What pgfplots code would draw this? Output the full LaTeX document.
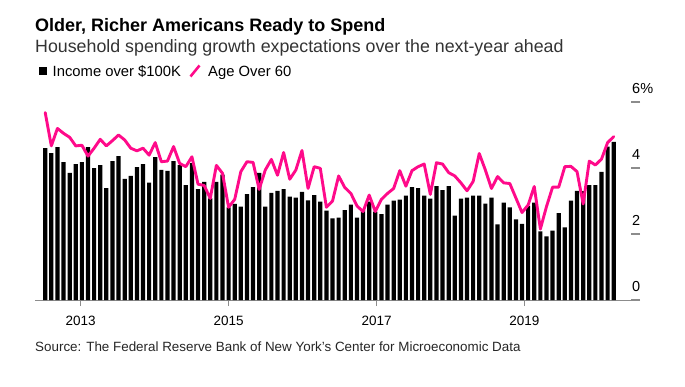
\documentclass[border=0pt]{standalone}
\usepackage{fontspec}
\setmainfont{Liberation Sans}
\usepackage{pgfplots}
\pgfplotsset{compat=1.18}
\definecolor{bpink}{HTML}{FF0A8A}
\definecolor{tickgray}{HTML}{8C8C8C}

\pgfplotstableread{
x y
0 4.60
1 4.45
2 4.63
3 4.18
4 3.85
5 4.12
6 4.18
7 4.63
8 4.00
9 4.09
10 3.39
11 4.21
12 4.36
13 3.67
14 3.76
15 4.03
16 4.12
17 3.56
18 4.33
19 3.94
20 3.91
21 4.21
22 4.09
23 3.48
24 4.15
25 3.36
26 3.58
27 3.08
28 3.58
29 3.80
30 2.81
31 2.91
32 2.83
33 3.21
34 3.42
35 3.85
36 2.83
37 3.25
38 3.31
39 3.36
40 3.13
41 3.10
42 3.28
43 3.02
44 3.18
45 2.98
46 2.71
47 2.47
48 2.50
49 2.72
50 2.89
51 2.50
52 2.73
53 2.98
54 2.68
55 2.60
56 2.89
57 3.01
58 3.04
59 3.16
60 3.42
61 3.39
62 3.16
63 3.07
64 3.45
65 3.33
66 3.45
67 2.56
68 3.07
69 3.10
70 3.16
71 3.16
72 2.92
73 3.10
74 2.29
75 2.95
76 2.81
77 2.44
78 2.31
79 2.85
80 2.95
81 2.08
82 1.93
83 2.10
84 2.63
85 2.20
86 3.01
87 3.31
88 3.30
89 3.48
90 3.48
91 3.88
92 4.65
93 4.79
}\incomedata

\pgfplotstableread{
x y
0 5.68
1 4.67
2 5.20
3 5.05
4 4.93
5 4.67
6 4.69
7 4.36
8 4.60
9 4.87
10 4.67
11 4.83
12 5.00
13 4.85
14 4.60
15 4.52
16 4.60
17 4.39
18 4.77
19 4.19
20 4.21
21 4.65
22 4.14
23 4.04
24 4.34
25 3.51
26 3.47
27 3.08
28 4.08
29 3.84
30 2.81
31 3.05
32 3.89
33 4.19
34 4.17
35 3.35
36 3.94
37 4.26
38 3.78
39 4.47
40 3.66
41 3.94
42 4.53
43 3.38
44 4.04
45 3.99
46 2.81
47 3.00
48 3.76
49 3.41
50 3.23
51 2.85
52 2.68
53 3.18
54 2.68
55 3.05
56 3.23
57 3.38
58 3.92
59 3.45
60 3.92
61 4.04
62 4.12
63 3.20
64 4.16
65 4.12
66 3.86
67 3.76
68 3.55
69 3.31
70 3.59
71 4.44
72 3.94
73 3.38
74 3.74
75 3.55
76 3.53
77 3.09
78 2.65
79 2.88
80 3.44
81 2.15
82 2.83
83 3.42
84 3.42
85 4.04
86 4.05
87 3.89
88 2.91
89 4.21
90 4.09
91 4.27
92 4.77
93 4.95
}\agedata

\begin{document}
\begin{tikzpicture}[x=1bp,y=1bp]
\useasboundingbox (0,0) rectangle (685,386);
\begin{axis}[
  at={(35bp,86bp)}, anchor=south west,
  scale only axis, width=605bp, height=198bp,
  xmin=-1.67, xmax=97.3, ymin=0, ymax=6,
  axis x line=bottom, axis y line=none,
  x axis line style={draw=tickgray, line width=1bp, -},
  xtick={5.8,30.0,54.2,78.4},
  xticklabels={2013,2015,2017,2019},
  tick align=outside, major tick length=6bp,
  xtick style={draw=tickgray, line width=1bp},
  xticklabel style={font=\fontsize{13.5bp}{15bp}\selectfont, anchor=base, inner sep=0pt, yshift=-19bp},
  /pgf/number format/assume math mode=true,
  clip=false,
]
\addplot[ybar, bar width=4.2bp, fill=black, draw=none] table[x=x, y=y] {\incomedata};
\addplot[sharp plot, bpink, line width=2.9bp, line join=round, line cap=round, mark=none] table[x=x, y=y] {\agedata};
\end{axis}
\begin{axis}[
  at={(35bp,86bp)}, anchor=south west,
  scale only axis, width=605bp, height=198bp,
  xmin=-1.67, xmax=97.3, ymin=0, ymax=6,
  axis x line=none, axis y line=right,
  y axis line style={draw=none},
  ytick={0,2,4,6}, yticklabels={0,2,4,6\%},
  tick align=inside, major tick length=9bp,
  ytick style={draw=tickgray, line width=1.3bp},
  yticklabel style={font=\fontsize{14.5bp}{16bp}\selectfont, anchor=south west, inner sep=0pt, xshift=-8bp, yshift=8bp},
  /pgf/number format/assume math mode=true,
]
\addplot[draw=none, mark=none] coordinates {(0,0)};
\end{axis}
\node[anchor=base west, inner sep=0pt, font=\fontsize{18bp}{20bp}\selectfont\bfseries] at (35,355) {Older, Richer Americans Ready to Spend};
\node[anchor=base west, inner sep=0pt, font=\fontsize{17.8bp}{20bp}\selectfont, text=black!80] at (35,334) {Household spending growth expectations over the next-year ahead};
\fill[black] (38.5,311) rectangle (46.5,319);
\node[anchor=base west, inner sep=0pt, font=\fontsize{14.8bp}{16bp}\selectfont] at (52.5,310) {Income over \$100K};
\draw[bpink, line width=2.6] (190.5,309.5) -- (199.5,320.5);
\node[anchor=base west, inner sep=0pt, font=\fontsize{14.8bp}{16bp}\selectfont] at (208,310) {Age Over 60};
\node[anchor=base west, inner sep=0pt, font=\fontsize{13.4bp}{15bp}\selectfont, text=black!85] at (35,35) {Source: The Federal Reserve Bank of New York’s Center for Microeconomic Data};
\end{tikzpicture}
\end{document}
